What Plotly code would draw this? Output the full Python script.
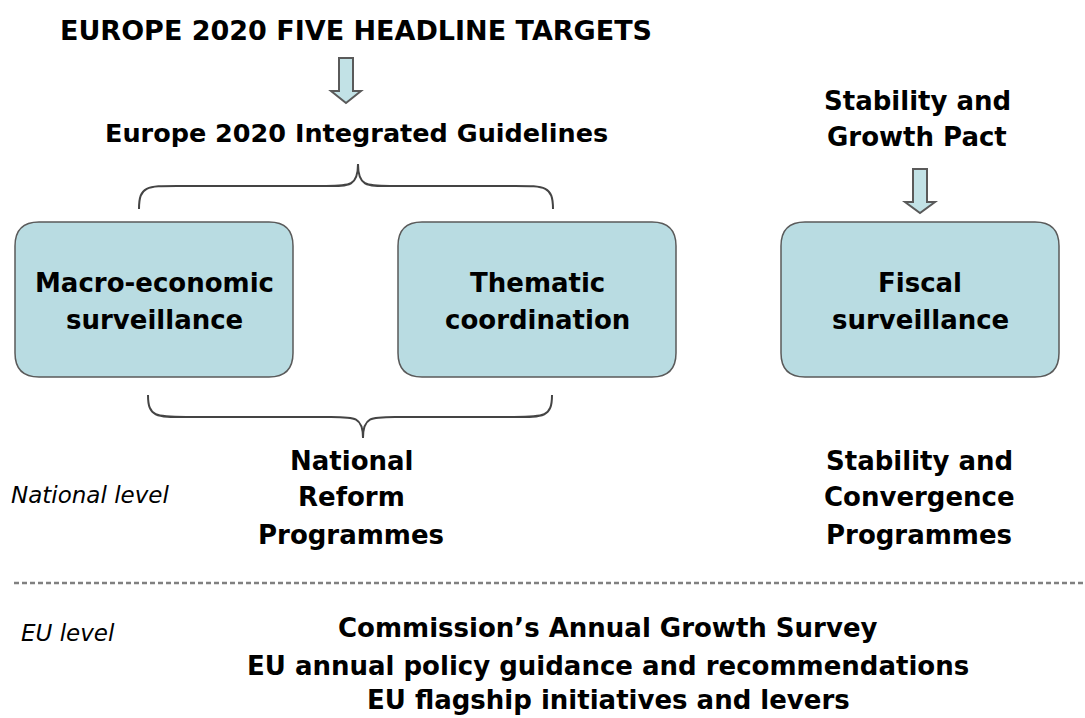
import plotly.graph_objects as go

# text content of the diagram
title = "EUROPE 2020 FIVE HEADLINE TARGETS"
guidelines = "Europe 2020 Integrated Guidelines"
pact = ["Stability and", "Growth Pact"]
boxes = [["Macro-economic", "surveillance"],
         ["Thematic", "coordination"],
         ["Fiscal", "surveillance"]]
programmes = [["National", "Reform", "Programmes"],
              ["Stability and", "Convergence", "Programmes"]]
levels = ["National level", "EU level"]
eu_lines = ["Commission\u2019s Annual Growth Survey",
            "EU annual policy guidance and recommendations",
            "EU flagship initiatives and levers"]

W, H = 1085, 718
FONT = "DejaVu Sans, Liberation Sans, Arial, sans-serif"
BOX_FILL = "#b9dce2"
EDGE = "#5a5a5a"

# layout in pixel coordinates (y grows downwards)
box_x = [(15, 293), (398, 676), (781, 1059)]
box_y = (222, 377)
radius = 24


def rounded_rect(x0, y0, x1, y1, r):
    return (f"M {x0+r},{y0} L {x1-r},{y0} Q {x1},{y0} {x1},{y0+r} "
            f"L {x1},{y1-r} Q {x1},{y1} {x1-r},{y1} L {x0+r},{y1} "
            f"Q {x0},{y1} {x0},{y1-r} L {x0},{y0+r} Q {x0},{y0} {x0+r},{y0} Z")


def down_arrow(cx, top, neck, tip, shaft_w, head_w):
    s, h = shaft_w / 2, head_w / 2
    return (f"M {cx-s},{top} L {cx+s},{top} L {cx+s},{neck} L {cx+h},{neck} "
            f"L {cx},{tip} L {cx-h},{neck} L {cx-s},{neck} Z")


def brace(x0, x1, xm, y_end, y_mid, y_cusp, k=38, j=32):
    # curly brace; ends at y_end, bar at y_mid, cusp at y_cusp
    return (f"M {x0},{y_end} C {x0},{y_mid} {x0+8},{y_mid} {x0+k},{y_mid} "
            f"L {xm-j},{y_mid} C {xm-8},{y_mid} {xm},{y_mid} {xm},{y_cusp} "
            f"C {xm},{y_mid} {xm+8},{y_mid} {xm+j},{y_mid} "
            f"L {x1-k},{y_mid} C {x1-8},{y_mid} {x1},{y_mid} {x1},{y_end}")


fig = go.Figure()
shapes = []

for x0, x1 in box_x:
    shapes.append(dict(type="path", path=rounded_rect(x0, box_y[0], x1, box_y[1], radius),
                       fillcolor=BOX_FILL, line=dict(color=EDGE, width=1.5)))

for cx, top, neck, tip in [(346, 58, 91, 103), (920, 169, 202, 213)]:
    shapes.append(dict(type="path", path=down_arrow(cx, top, neck, tip, 14, 30),
                       fillcolor="#c2e2e6", line=dict(color=EDGE, width=2)))

shapes.append(dict(type="path", path=brace(139, 553, 358, 209, 186, 164),
                   line=dict(color="#444444", width=2)))
shapes.append(dict(type="path", path=brace(148, 552, 363, 395, 417, 438),
                   line=dict(color="#444444", width=2)))

shapes.append(dict(type="line", x0=14, x1=1085, y0=583, y1=583,
                   line=dict(color="#808080", width=2.5, dash="5px,3px")))

ann = []


def text(x, y, s, size, anchor="center", bold=True, italic=False):
    if bold:
        s = f"<b>{s}</b>"
    if italic:
        s = f"<i>{s}</i>"
    ann.append(dict(x=x, y=y, text=s, showarrow=False, xanchor=anchor,
                    yanchor="middle", font=dict(family=FONT, size=size, color="black")))


def block(x, ys, lines, size):
    for y, line in zip(ys, lines):
        text(x, y, line, size)


text(356, 30, title, 27)
text(356, 133, guidelines, 25.5)
block(917, [101, 137], pact, 26)
for (x0, x1), lines in zip(box_x, boxes):
    block((x0 + x1) / 2, [283, 320], lines, 26)
for cx, lines in zip([351, 919], programmes):
    block(cx, [461, 497, 535], lines, 26)
text(9, 495, levels[0], 23, anchor="left", bold=False, italic=True)
text(19, 633, levels[1], 23, anchor="left", bold=False, italic=True)
block(608, [628, 666, 700], eu_lines, 26)

fig.update_layout(
    width=W, height=H,
    margin=dict(l=0, r=0, t=0, b=0),
    paper_bgcolor="white", plot_bgcolor="white",
    xaxis=dict(range=[0, W], visible=False, fixedrange=True),
    yaxis=dict(range=[H, 0], visible=False, fixedrange=True),
    shapes=shapes, annotations=ann, showlegend=False,
)

fig.write_html("out.html", config={"displayModeBar": False},
               post_script="document.body.style.margin='0';")
